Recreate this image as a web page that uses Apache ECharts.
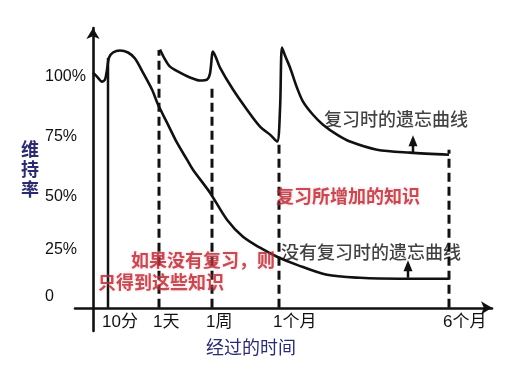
<!DOCTYPE html>
<html><head><meta charset="utf-8">
<script src="https://cdn.jsdelivr.net/npm/echarts@6/dist/echarts.min.js"></script>
<style>html,body{margin:0;padding:0;background:#fff}#c{width:523px;height:372px}</style>
</head><body><div id="c"></div>
<script>
// x is the chart's (non-linear) time scale, y is retention in %
const xTickValues = [15, 66, 119, 186, 356];
const xTickLabels = ['10分', '1天', '1周', '1个月', '6个月'];
const yTickValues = [5, 25, 48, 74, 100];
const yTickLabels = ['0', '25%', '50%', '75%', '100%'];

const noReviewX = [0, 4, 9, 12, 14, 16, 20, 27, 35, 42, 50, 59, 65, 74, 84, 94, 100, 117, 134, 150, 167, 184, 204, 234, 267, 307, 356];
const noReviewY = [101.7, 100, 97.8, 98.7, 103, 108.2, 110.4, 111.3, 110.4, 107.8, 101.7, 94.4, 87.9, 80.1, 71.4, 64.1, 59.7, 49.8, 38.1, 30.7, 26.0, 22.1, 18.6, 14.3, 13.0, 12.6, 12.6];

const reviewX = [67, 72, 77, 87, 97, 107, 114, 117, 120, 123, 127, 140, 154, 167, 177, 184, 187, 189, 192, 197, 204, 210, 220, 230, 244, 257, 284, 317, 356];
const reviewY = [111.7, 107.4, 104.3, 101.7, 99.6, 98.3, 98.7, 101.3, 110.8, 108.2, 103.9, 94.4, 85.7, 78.4, 74.9, 71.9, 85.7, 112.6, 109.1, 103.9, 95.2, 89.2, 83.5, 79.2, 74.9, 71.9, 68.4, 67.1, 66.2];

const guideX = [15, 66, 119, 186, 356];
const guideTop = [108, 111.5, 96.5, 70.6, 68.4];

const annoTexts = ['复习时的遗忘曲线', '复习所增加的知识', '没有复习时的遗忘曲线', '如果没有复习，则', '只得到这些知识'];
const annoX = [303, 255, 278, 110, 68];
const annoY = [81.4, 48.1, 24.2, 20.8, 11.3];
const annoRed = [false, true, false, true, true];

const arrowX = [320, 315];
const arrowFrom = [66.7, 13];
const arrowTo = [72.3, 18.2];

const INK = '#111';
const RED = '#b8262f';
const NAVY = '#2b2b6e';

const series = [];
guideX.forEach((x, i) => {
  series.push({
    type: 'line', silent: true, symbol: 'none', z: 2,
    data: [[x, 0], [x, guideTop[i]]],
    lineStyle: { color: INK, width: i === 0 ? 2.5 : 3, type: i === 0 ? 'solid' : [9, 5] }
  });
});
series.push({
  type: 'line', smooth: 0.3, symbol: 'none', z: 3,
  data: noReviewX.map((x, i) => [x, noReviewY[i]]),
  lineStyle: { color: INK, width: 2.6 }
});
series.push({
  type: 'line', smooth: 0.3, symbol: 'none', z: 3,
  data: reviewX.map((x, i) => [x, reviewY[i]]),
  lineStyle: { color: INK, width: 2.6 }
});
arrowX.forEach((x, i) => {
  series.push({
    type: 'line', z: 4, silent: true,
    data: [
      { value: [x, arrowFrom[i]], symbol: 'none' },
      { value: [x, arrowTo[i]], symbol: 'triangle', symbolSize: [9, 11] }
    ],
    itemStyle: { color: INK },
    lineStyle: { color: INK, width: 2.5 }
  });
});
series.push({
  type: 'scatter', z: 5, symbolSize: 1, silent: true,
  itemStyle: { color: 'rgba(0,0,0,0)' },
  data: annoTexts.map((t, i) => ({
    name: t, value: [annoX[i], annoY[i]],
    label: {
      color: annoRed[i] ? RED : INK,
      fontWeight: annoRed[i] ? 'bold' : 500,
      textShadowColor: annoRed[i] ? 'rgba(230,140,150,0.6)' : 'rgba(0,0,0,0)',
      textShadowBlur: annoRed[i] ? 3 : 0
    }
  })),
  label: {
    show: true, position: 'inside', formatter: p => p.name,
    fontSize: 18, fontFamily: 'Noto Sans CJK SC', color: INK
  },
  labelLayout: { hideOverlap: false }
});

const chart = echarts.init(document.getElementById('c'), null, { renderer: 'canvas' });
chart.setOption({
  animation: false,
  backgroundColor: '#fff',
  grid: { left: 75, right: 31, top: 28, bottom: 41, containLabel: false, outerBoundsMode: 'none' },
  xAxis: {
    type: 'value', min: -18, max: 399,
    axisLine: { onZero: true, lineStyle: { color: INK, width: 2.6 }, symbol: ['none', 'arrow'], symbolSize: [10, 11] },
    axisTick: { show: false }, splitLine: { show: false },
    axisLabel: {
      customValues: xTickValues,
      formatter: v => xTickLabels[xTickValues.indexOf(v)] || '',
      align: 'left', margin: -17, padding: [0, 0, 0, -6],
      fontSize: 17, color: INK, fontFamily: 'Liberation Sans, Noto Sans CJK SC'
    },
    name: '经过的时间', nameLocation: 'middle', nameGap: 7,
    nameTextStyle: { fontSize: 18, color: NAVY, fontFamily: 'Noto Sans CJK SC', padding: [0, 65, 0, 0] }
  },
  yAxis: {
    type: 'value', min: -10, max: 121,
    axisLine: { onZero: true, lineStyle: { color: INK, width: 2.6 }, symbol: ['none', 'arrow'], symbolSize: [10, 11] },
    axisTick: { show: false }, splitLine: { show: false },
    axisLabel: {
      customValues: yTickValues,
      formatter: v => yTickLabels[yTickValues.indexOf(v)] || '',
      align: 'left', margin: 30,
      fontSize: 16, color: INK, fontFamily: 'Liberation Sans, Noto Sans CJK SC'
    },
    name: '维\n持\n率\n ', nameLocation: 'middle', nameRotate: 0, nameGap: 35,
    nameTextStyle: { fontSize: 18, lineHeight: 20, fontWeight: 'bold', color: NAVY, fontFamily: 'Noto Sans CJK SC' }
  },
  series: series
});
</script>
</body></html>
